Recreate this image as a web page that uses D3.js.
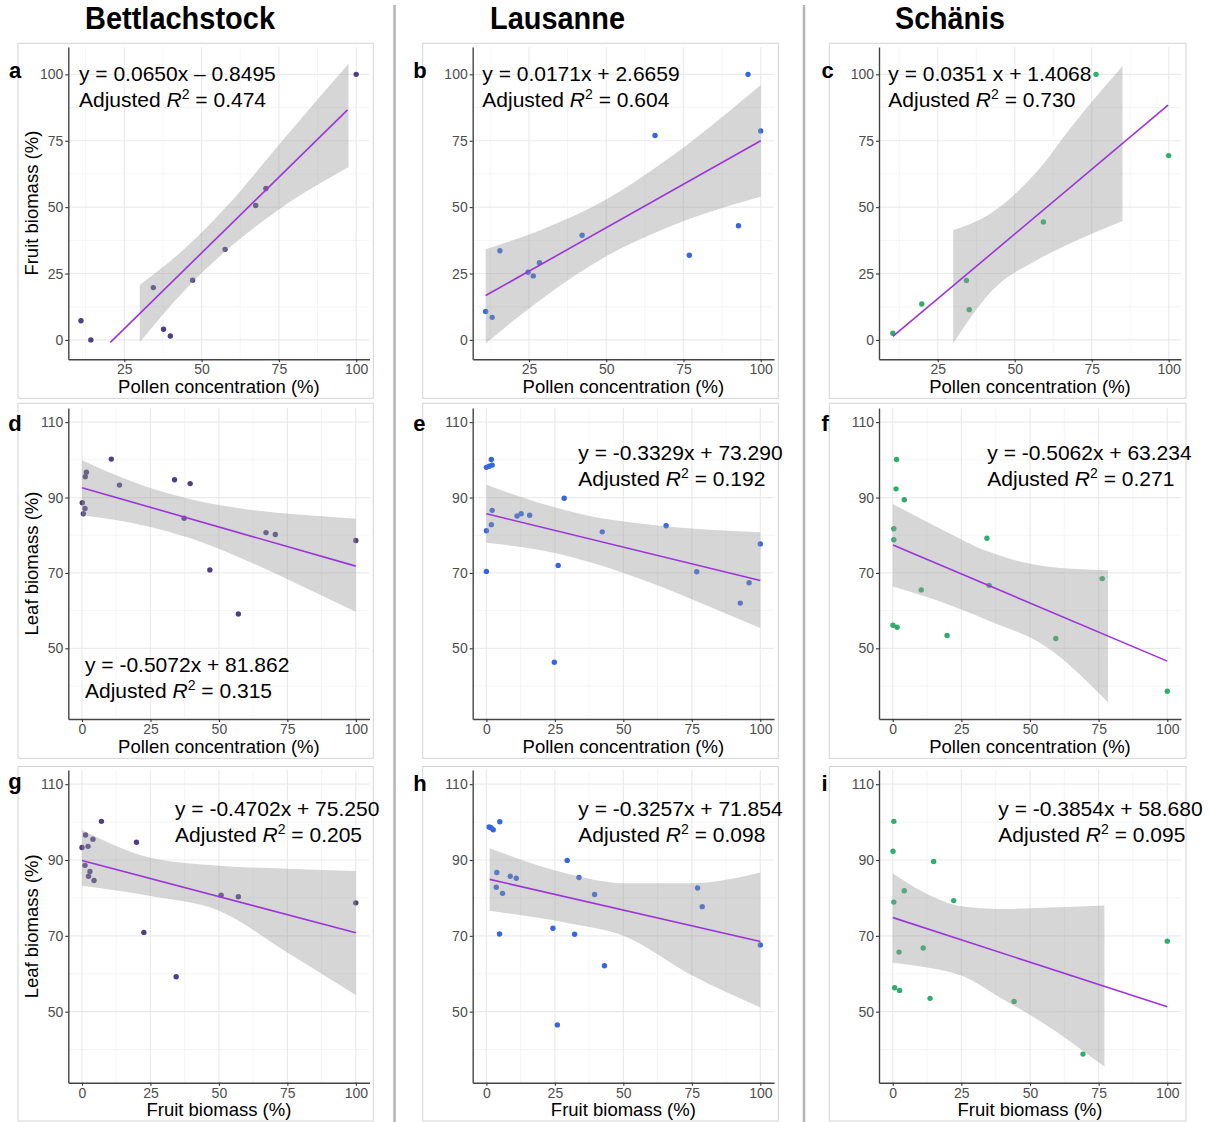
<!DOCTYPE html>
<html>
<head>
<meta charset="utf-8">
<script src="https://cdn.jsdelivr.net/npm/d3@7"></script>
<style>
  body { margin: 0; background: #fff; }
  svg { font-family: 'Liberation Sans', Arial, sans-serif; }
</style>
</head>
<body>
<svg></svg>
<script>
const sites = ['Bettlachstock', 'Lausanne', 'Schänis'];
const letters = ['a', 'b', 'c', 'd', 'e', 'f', 'g', 'h', 'i'];
const xTitles = ['Pollen concentration (%)', 'Pollen concentration (%)', 'Fruit biomass (%)'];
const yTitles = ['Fruit biomass (%)', 'Leaf biomass (%)', 'Leaf biomass (%)'];

const ticksTop = [0, 25, 50, 75, 100];
const ticksLeaf = [50, 70, 90, 110];
const ticksX = [0, 25, 50, 75, 100];

// row a-c: fruit vs pollen
const ptsA = [[11.0, 7.2], [14.2, 0], [34.4, 19.7], [37.7, 4.0], [39.9, 1.5], [47.1, 22.5], [57.6, 34.1], [67.5, 50.6], [70.8, 57.0], [100, 100]];
const ptsB = [[11.0, 10.7], [13.1, 8.5], [15.6, 33.6], [24.7, 25.5], [26.4, 24.1], [28.4, 29.1], [42.2, 39.4], [65.8, 77.0], [76.9, 31.9], [92.8, 43.0], [95.9, 100], [100, 78.7]];
const ptsC = [[10.4, 2.5], [19.8, 13.5], [34.3, 22.4], [35.2, 11.4], [59.3, 44.4], [76.4, 100], [100, 69.4]];
// row d-f: leaf vs pollen
const ptsD = [[0.1, 88.6], [0.5, 85.7], [1.1, 87.1], [1.2, 95.5], [1.6, 96.7], [10.7, 100.2], [13.7, 93.3], [33.8, 94.7], [39.5, 93.7], [37.3, 84.5], [46.7, 70.8], [57.1, 59.1], [67.2, 80.7], [70.6, 80.2], [100, 78.6]];
const ptsE = [[0, 98.0], [1.0, 98.3], [1.8, 100.1], [2.1, 98.6], [2.1, 86.6], [1.8, 82.8], [0, 81.2], [0, 70.4], [11.2, 85.1], [12.7, 85.7], [15.8, 85.3], [26.2, 72.0], [28.4, 89.8], [24.8, 46.3], [42.3, 80.9], [65.6, 82.5], [76.8, 70.3], [92.7, 62.0], [95.9, 67.4], [100, 77.7]];
const ptsF = [[1.4, 100.1], [1.2, 92.3], [4.2, 89.4], [0.4, 81.7], [0.4, 78.8], [0.1, 56.1], [1.6, 55.6], [10.4, 65.5], [19.8, 53.4], [34.3, 79.2], [35.1, 66.7], [59.4, 52.6], [76.3, 68.5], [100, 38.6]];
// row g-i: leaf vs fruit
const ptsG = [[0, 93.3], [1.3, 96.6], [2.2, 93.6], [4.0, 95.5], [1.1, 88.6], [2.4, 85.7], [2.9, 87.0], [4.4, 84.6], [7.1, 100.2], [19.9, 94.7], [22.6, 70.9], [34.4, 59.2], [50.8, 80.7], [57.1, 80.3], [100, 78.7]];
const ptsH = [[1.0, 98.7], [1.7, 98.5], [2.5, 98.0], [4.9, 100.1], [3.8, 86.7], [3.6, 82.8], [5.9, 81.2], [4.8, 70.5], [8.7, 85.7], [10.9, 85.2], [24.3, 72.0], [25.9, 46.5], [29.5, 89.9], [32.2, 70.4], [33.8, 85.4], [39.5, 80.9], [43.1, 62.1], [77.1, 82.6], [78.8, 77.7], [100, 67.6]];
const ptsI = [[0.4, 100.2], [0.1, 92.3], [0.4, 78.9], [4.2, 81.9], [14.9, 89.6], [22.2, 79.3], [2.3, 65.7], [11.1, 66.8], [0.7, 56.3], [2.5, 55.6], [13.6, 53.5], [44.2, 52.7], [69.3, 38.8], [100, 68.6]];

// fitted lines, start and end
const fitA = [[20.5, -0.9], [97.2, 86.6]];
const fitB = [[11, 16.7], [100, 75.0]];
const fitC = [[10.4, 1.3], [99.8, 88.4]];
const fitD = [[0, 92.6], [100, 71.8]];
const fitE = [[0, 85.7], [100, 68.0]];
const fitF = [[0.1, 77.4], [100, 46.6]];
const fitG = [[0, 89.9], [100, 70.8]];
const fitH = [[1.2, 84.9], [100, 68.5]];
const fitI = [[0.1, 74.8], [100, 51.3]];

// confidence bands: x, lower, upper
const bandA = [[30, -0.9, 20.7], [45, 19.3, 34.9], [60, 35.7, 52.7], [75, 49.1, 73.5], [97.5, 65, 104]];
const bandB = [[11, -1.3, 34.1], [30, 16.2, 42], [50, 31.5, 52.9], [70, 42.4, 68.2], [100, 54, 96]];
const bandC = [[30, -1.3, 41.3], [42.5, 18.4, 47.9], [57.7, 30.4, 64.1], [68.5, 36.6, 80.4], [85, 44.8, 103.1]];
const bandD = [[0, 85.3, 99.9], [20, 83.0, 93.8], [40, 79.1, 89.5], [60, 73.3, 86.9], [80, 66.6, 85.4], [100, 59.7, 84.4]];
const bandE = [[0, 78.0, 93.4], [20, 76.0, 88.4], [40, 72.4, 84.8], [60, 67.4, 82.8], [80, 61.5, 81.5], [100, 55.4, 80.8]];
const bandF = [[0, 66.4, 88.3], [15, 63, 82.6], [35, 57.3, 75.6], [55.3, 50.7, 71.8], [78.4, 35.7, 70.7]];
const bandG = [[0, 83.2, 97.9], [25, 80.5, 90.6], [50, 76.6, 88.5], [75, 65.6, 87.7], [100, 54.4, 87.1]];
const bandH = [[1.2, 76.6, 93.1], [30, 73.3, 86.3], [50, 70.0, 83.9], [75, 59.6, 83.9], [100, 51.1, 86.7]];
const bandI = [[0, 62.9, 86.5], [12, 61.7, 81.2], [25, 59.5, 77.8], [40, 53.3, 77.1], [55, 46.9, 77.4], [77.1, 35.5, 78.0]];

const equations = ['y = 0.0650x – 0.8495', 'y = 0.0171x + 2.6659', 'y = 0.0351 x + 1.4068',
  'y = -0.5072x + 81.862', 'y = -0.3329x + 73.290', 'y = -0.5062x + 63.234',
  'y = -0.4702x + 75.250', 'y = -0.3257x + 71.854', 'y = -0.3854x + 58.680'];
const adjR2 = ['0.474', '0.604', '0.730', '0.315', '0.192', '0.271', '0.205', '0.098', '0.095'];

const pts = [ptsA, ptsB, ptsC, ptsD, ptsE, ptsF, ptsG, ptsH, ptsI];
const fits = [fitA, fitB, fitC, fitD, fitE, fitF, fitG, fitH, fitI];
const bands = [bandA, bandB, bandC, bandD, bandE, bandF, bandG, bandH, bandI];

// layout
const siteColors = ['#4f3f82', '#3566e0', '#2fae6b'];
const colBox = [[18, 373.3], [422.7, 778.3], [829.3, 1186]];
const rowBox = [[43.3, 398.3], [403.3, 758.3], [766.5, 1121]];
const plotX = [[68.3, 369.5], [472.7, 774], [879, 1181]];
const plotY = [[47, 359.3], [408, 719], [770, 1082.7]];
const xDomains = [[6.9, 104.3], [6.8, 104.3], [5.9, 104], [-5, 105], [-5, 105], [-5, 105], [-5, 105], [-5, 105], [-5, 105]];
const yDomains = [[-7.3, 110.3], [31.25, 113.75], [31.25, 113.75]];
const eqAt = [[79, 80.7], [482.3, 80.7], [888.3, 80.7], [85, 671.7], [578.3, 460], [987.3, 460], [175, 815.5], [578.3, 815.5], [998.3, 815.5]];
const letterAt = [[9, 77.5], [413.3, 77.5], [821.5, 77.5], [8.3, 430.5], [413.3, 430.5], [821.5, 430.5], [8.3, 788.5], [413.3, 790.5], [821.5, 790.5]];

const svg = d3.select('svg')
  .attr('width', 1212)
  .attr('height', 1122);

svg.append('rect').attr('width', 1212).attr('height', 1122).attr('fill', '#fff');

// column headers
const headerCx = [180, 557.5, 950];
const headerLen = [190, 135, 110];
sites.forEach((s, c) => {
  svg.append('text')
    .attr('x', headerCx[c] - headerLen[c] / 2)
    .attr('y', 29)
    .attr('textLength', headerLen[c])
    .attr('lengthAdjust', 'spacingAndGlyphs')
    .attr('font-size', 31)
    .attr('font-weight', 'bold')
    .attr('fill', '#000')
    .text(s);
});

[394.5, 804].forEach(x => {
  svg.append('line')
    .attr('x1', x).attr('x2', x)
    .attr('y1', 5).attr('y2', 1122)
    .attr('stroke', '#b5b5b5')
    .attr('stroke-width', 2.5);
});

letters.forEach((letter, i) => {
  const col = i % 3;
  const row = Math.floor(i / 3);
  const g = svg.append('g');

  g.append('rect')
    .attr('x', colBox[col][0]).attr('y', rowBox[row][0])
    .attr('width', colBox[col][1] - colBox[col][0])
    .attr('height', rowBox[row][1] - rowBox[row][0])
    .attr('fill', 'none')
    .attr('stroke', '#d4d4d4')
    .attr('stroke-width', 1);

  const x = d3.scaleLinear().domain(xDomains[i]).range(plotX[col]);
  const y = d3.scaleLinear().domain(yDomains[row]).range([plotY[row][1], plotY[row][0]]);
  const [xd0, xd1] = xDomains[i];
  const [yd0, yd1] = yDomains[row];

  const yTicks = row === 0 ? ticksTop : ticksLeaf;
  const yStep = yTicks[1] - yTicks[0];
  const yMinor = d3.range(yTicks[0] - yStep / 2, yd1, yStep).filter(v => v > yd0 && v < yd1);
  const xMinor = d3.range(ticksX[0] - 12.5, xd1, 25).filter(v => v > xd0 && v < xd1);
  const xMajor = ticksX.filter(v => v >= xd0 && v <= xd1);

  // grid
  const grid = g.append('g');
  grid.selectAll('.ymin').data(yMinor).enter().append('line')
    .attr('x1', plotX[col][0]).attr('x2', plotX[col][1])
    .attr('y1', d => y(d)).attr('y2', d => y(d))
    .attr('stroke', '#f3f3f3').attr('stroke-width', 0.8);
  grid.selectAll('.xmin').data(xMinor).enter().append('line')
    .attr('y1', plotY[row][0]).attr('y2', plotY[row][1])
    .attr('x1', d => x(d)).attr('x2', d => x(d))
    .attr('stroke', '#f3f3f3').attr('stroke-width', 0.8);
  grid.selectAll('.ymaj').data(yTicks).enter().append('line')
    .attr('x1', plotX[col][0]).attr('x2', plotX[col][1])
    .attr('y1', d => y(d)).attr('y2', d => y(d))
    .attr('stroke', '#ebebeb').attr('stroke-width', 1.2);
  grid.selectAll('.xmaj').data(xMajor).enter().append('line')
    .attr('y1', plotY[row][0]).attr('y2', plotY[row][1])
    .attr('x1', d => x(d)).attr('x2', d => x(d))
    .attr('stroke', '#ebebeb').attr('stroke-width', 1.2);

  // points, then band over them, then fit line
  g.append('g').selectAll('circle')
    .data(pts[i])
    .enter().append('circle')
    .attr('cx', d => x(d[0]))
    .attr('cy', d => y(d[1]))
    .attr('r', 2.7)
    .attr('fill', siteColors[col]);

  const area = d3.area()
    .x(d => x(d[0]))
    .y0(d => y(d[1]))
    .y1(d => y(d[2]))
    .curve(d3.curveMonotoneX);
  g.append('path')
    .datum(bands[i])
    .attr('d', area)
    .attr('fill', '#999')
    .attr('fill-opacity', 0.4);

  const line = d3.line().x(d => x(d[0])).y(d => y(d[1]));
  g.append('path')
    .datum(fits[i])
    .attr('d', line)
    .attr('fill', 'none')
    .attr('stroke', '#9b35db')
    .attr('stroke-width', 1.6);

  // axes
  const yAxis = g.append('g')
    .attr('transform', `translate(${plotX[col][0]},0)`)
    .call(d3.axisLeft(y).tickValues(yTicks).tickSize(3).tickSizeOuter(0).tickPadding(2));
  const xAxis = g.append('g')
    .attr('transform', `translate(0,${plotY[row][1]})`)
    .call(d3.axisBottom(x).tickValues(xMajor).tickSize(3).tickSizeOuter(0).tickPadding(2));
  [yAxis, xAxis].forEach(ax => {
    ax.select('.domain').attr('stroke', '#444').attr('stroke-width', 1.4);
    ax.selectAll('.tick line').attr('stroke', '#333').attr('stroke-width', 1.1);
    ax.selectAll('.tick text')
      .attr('fill', '#4d4d4d')
      .attr('font-size', 14)
      .attr('font-family', "'Liberation Sans', Arial, sans-serif");
  });

  // axis titles
  g.append('text')
    .attr('x', (plotX[col][0] + plotX[col][1]) / 2)
    .attr('y', rowBox[row][1] - 5)
    .attr('text-anchor', 'middle')
    .attr('font-size', 18.5)
    .attr('fill', '#000')
    .text(xTitles[row]);
  if (col === 0) {
    const cy = (plotY[row][0] + plotY[row][1]) / 2;
    g.append('text')
      .attr('transform', `translate(38,${cy}) rotate(-90)`)
      .attr('text-anchor', 'middle')
      .attr('font-size', 18.5)
      .attr('fill', '#000')
      .text(yTitles[row]);
  }

  // panel letter
  g.append('text')
    .attr('x', letterAt[i][0])
    .attr('y', letterAt[i][1])
    .attr('font-size', 22)
    .attr('font-weight', 'bold')
    .attr('fill', '#000')
    .text(letter);

  // equation
  const [ex, ey] = eqAt[i];
  g.append('text')
    .attr('x', ex).attr('y', ey)
    .attr('font-size', 21)
    .attr('fill', '#000')
    .text(equations[i]);
  const r2 = g.append('text')
    .attr('x', ex).attr('y', ey + 26)
    .attr('font-size', 21)
    .attr('fill', '#000')
    .attr('xml:space', 'preserve');
  r2.append('tspan').text('Adjusted ');
  r2.append('tspan').attr('font-style', 'italic').text('R');
  r2.append('tspan').attr('font-size', 14).attr('dy', -8).text('2');
  r2.append('tspan').attr('dy', 8).text(' = ' + adjR2[i]);
});
</script>
</body>
</html>
